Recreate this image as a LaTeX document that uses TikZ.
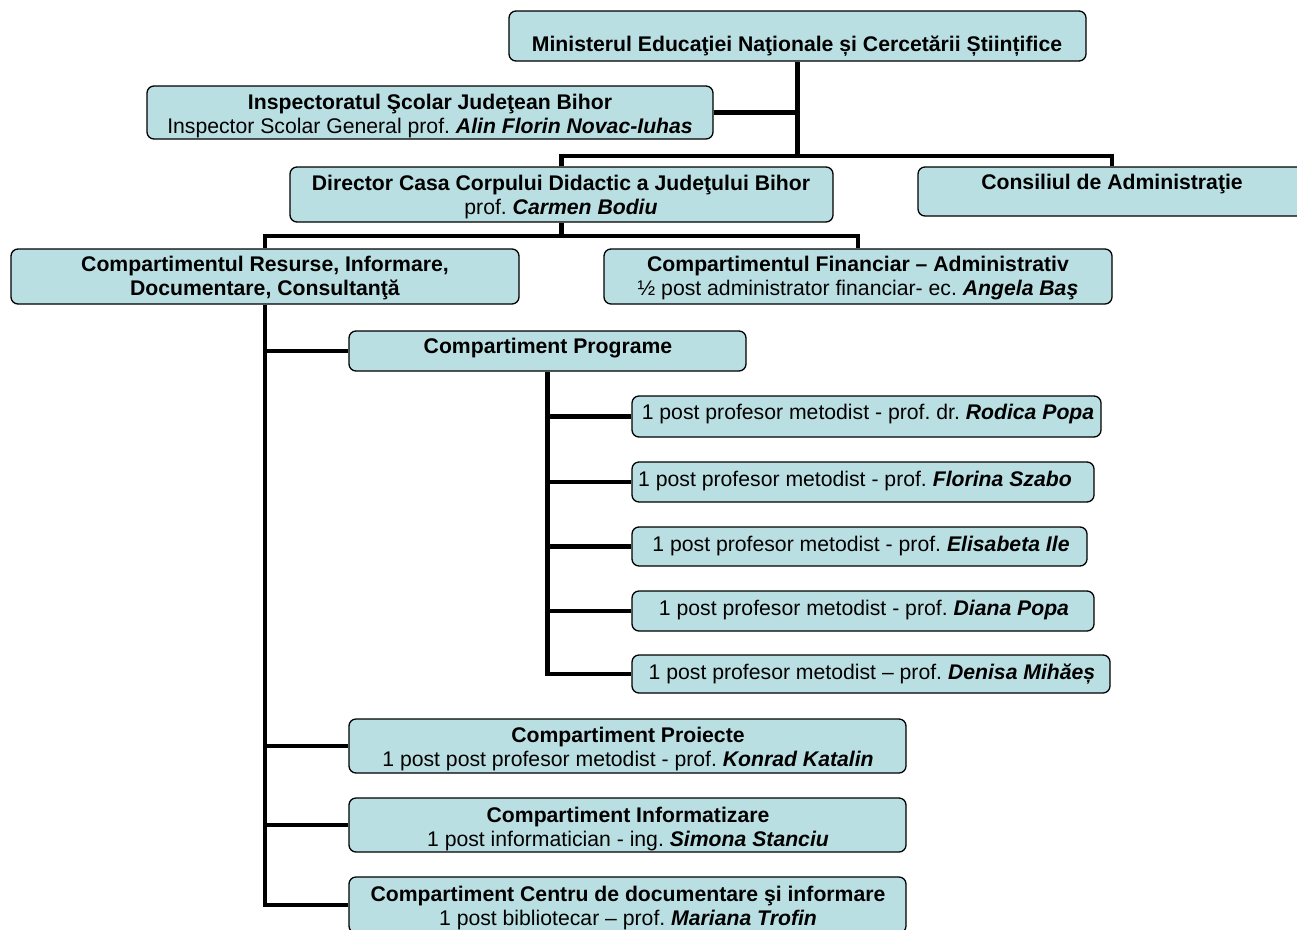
\documentclass[tikz,border=0pt]{standalone}
\usepackage{fontspec}
\setmainfont{Liberation Sans}
\frenchspacing
\definecolor{boxfill}{RGB}{186,223,227}
\newcommand{\bi}[1]{\textbf{\textit{#1}}}
\begin{document}
\begin{tikzpicture}[x=1pt,y=-1pt,
  box/.style={draw=black, line width=1.3pt, fill=boxfill, rounded corners=7pt, inner sep=0pt},
  txt/.style={align=center, inner sep=0pt, font=\fontsize{21.2}{24}\selectfont},
  conn/.style={line width=4.8pt, draw=black}]
\useasboundingbox (0,0) rectangle (1297,929);
\clip (0,0) rectangle (1297,929);
\fill[white] (0,0) rectangle (1297,929);

% boxes
\node[box, minimum width=577, minimum height=50] (min) at (797.5,36) {};
\node[box, minimum width=566, minimum height=53] (insp) at (430,112.5) {};
\node[box, minimum width=543, minimum height=55] (dir) at (561.5,194.5) {};
\node[box, minimum width=388, minimum height=49] (cons) at (1112,191.5) {};
\node[box, minimum width=508, minimum height=55] (res) at (265,276.5) {};
\node[box, minimum width=508, minimum height=55] (fin) at (858,276.5) {};
\node[box, minimum width=397, minimum height=40] (prog) at (547.5,351) {};
\node[box, minimum width=469, minimum height=41] (m1) at (866.5,416.5) {};
\node[box, minimum width=462, minimum height=40] (m2) at (863,482) {};
\node[box, minimum width=455, minimum height=39] (m3) at (859.5,546.5) {};
\node[box, minimum width=462, minimum height=40] (m4) at (863,611) {};
\node[box, minimum width=478, minimum height=38] (m5) at (871,674) {};
\node[box, minimum width=557, minimum height=54] (proj) at (627.5,746) {};
\node[box, minimum width=557, minimum height=54] (inf) at (627.5,825) {};
\node[box, minimum width=557, minimum height=56] (cen) at (627.5,905) {};

% texts
\node[txt] (tmin) at (797,46) {\textbf{Ministerul Educaţiei Naţionale și Cercetării Științifice}};
\node[txt] (tinsp) at (430,116) {\textbf{Inspectoratul Şcolar Judeţean Bihor}\\Inspector Scolar General prof. \bi{Alin Florin Novac-Iuhas}};
\node[txt] (tdir) at (561,197.5) {\textbf{Director Casa Corpului Didactic a Judeţului Bihor}\\prof. \bi{Carmen Bodiu}};
\node[txt] (tcons) at (1112,184) {\textbf{Consiliul de Administraţie}};
\node[txt] (tres) at (265,278) {\textbf{Compartimentul Resurse, Informare,}\\\textbf{Documentare, Consultanţă}};
\node[txt] (tfin) at (858,278) {\textbf{Compartimentul Financiar – Administrativ}\\½ post administrator financiar- ec. \bi{Angela Baş}};
\node[txt] (tprog) at (548,348) {\textbf{Compartiment Programe}};
\node[txt] (tm1) at (868,414) {1 post profesor metodist - prof. dr. \bi{Rodica Popa}};
\node[txt] (tm2) at (855,481) {1 post profesor metodist - prof. \bi{Florina Szabo}};
\node[txt] (tm3) at (861,546) {1 post profesor metodist - prof. \bi{Elisabeta Ile}};
\node[txt] (tm4) at (864,610) {1 post profesor metodist - prof. \bi{Diana Popa}};
\node[txt] (tm5) at (872,674) {1 post profesor metodist – prof. \bi{Denisa Mihăeș}};
\node[txt] (tproj) at (628,749) {\textbf{Compartiment Proiecte}\\1 post post profesor metodist - prof. \bi{Konrad Katalin}};
\node[txt] (tinf) at (628,829) {\textbf{Compartiment Informatizare}\\1 post informatician - ing. \bi{Simona Stanciu}};
\node[txt] (tcen) at (628,908) {\textbf{Compartiment Centru de documentare şi informare}\\1 post bibliotecar – prof. \bi{Mariana Trofin}};

% connectors
\coordinate (j1) at (797.5,156);
\coordinate (j2) at (561.5,236);
\draw[conn] (min.south) -- (j1);
\draw[conn] (insp.east) -- (insp.east -| j1);
\draw[conn] (dir.north) |- (j1) -| (cons.north);
\draw[conn] (dir.south) -- (j2);
\draw[conn] (res.north) |- (j2) -| (fin.north);
\draw[conn] (res.south) |- (cen.west);
\draw[conn] (res.south |- prog.west) -- (prog.west);
\draw[conn] (res.south |- proj.west) -- (proj.west);
\draw[conn] (res.south |- inf.west) -- (inf.west);
\draw[conn] (prog.south) |- (m5.west);
\draw[conn] (prog.south |- m1.west) -- (m1.west);
\draw[conn] (prog.south |- m2.west) -- (m2.west);
\draw[conn] (prog.south |- m3.west) -- (m3.west);
\draw[conn] (prog.south |- m4.west) -- (m4.west);
\end{tikzpicture}
\end{document}
